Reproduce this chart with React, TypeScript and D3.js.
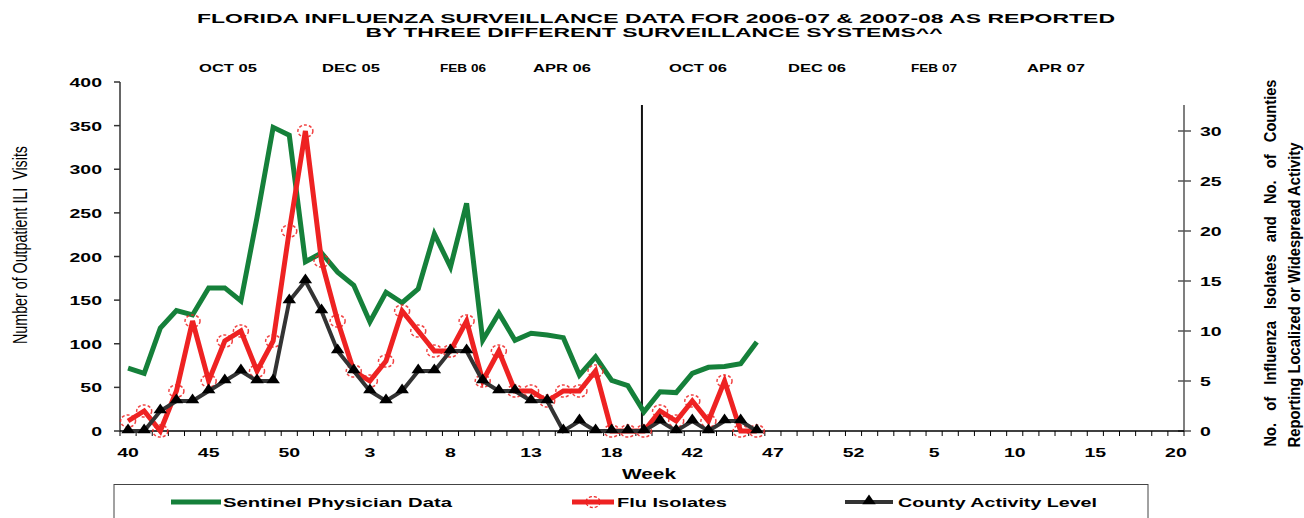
import React from "react";
import * as d3 from "d3";

// x categories: two seasons of weeks 40..20
const weekLabels = [
  40, 41, 42, 43, 44, 45, 46, 47, 48, 49, 50, 51, 52, 1, 2, 3, 4, 5, 6, 7, 8, 9, 10,
  11, 12, 13, 14, 15, 16, 17, 18, 19, 20,
  40, 41, 42, 43, 44, 45, 46, 47, 48, 49, 50, 51, 52, 1, 2, 3, 4, 5, 6, 7, 8, 9, 10,
  11, 12, 13, 14, 15, 16, 17, 18, 19, 20,
];

// left axis series
const sentinelVisits = [
  72, 66, 118, 138, 133, 164, 164, 149, 245, 348, 339, 194, 204, 182, 167, 125, 159,
  147, 163, 226, 188, 261, 104, 135, 104, 112, 110, 107, 64, 85, 58, 52, 22, 45, 44,
  66, 73, 74, 77, 102,
];

// right axis series
const fluIsolates = [
  1, 2, 0, 4, 11, 5, 9, 10, 6, 9, 20, 30, 17, 11, 6, 5, 7, 12, 10, 8, 8, 11, 5, 8, 4,
  4, 3, 4, 4, 6, 0, 0, 0, 2, 1, 3, 1, 5, 0, 0,
];
const countyActivity = [
  0, 0, 2, 3, 3, 4, 5, 6, 5, 5, 13, 15, 12, 8, 6, 4, 3, 4, 6, 6, 8, 8, 5, 4, 4, 3, 3,
  0, 1, 0, 0, 0, 0, 1, 0, 1, 0, 1, 1, 0,
];

const leftTicks = [0, 50, 100, 150, 200, 250, 300, 350, 400];
const rightTicks = [0, 5, 10, 15, 20, 25, 30];
const monthLabels = ["OCT 05", "DEC 05", "FEB 06", "APR 06", "OCT 06", "DEC 06", "FEB 07", "APR 07"];
const monthLabelX = [228, 351, 463, 562, 698, 817, 934, 1056];
const seasonBreak = 32; // category where the new season's divider sits

const W = 1304;
const H = 518;
const FONT = "'Liberation Sans', Arial, sans-serif";
const GREEN = "#15803a";
const RED = "#ee2222";
const DARK = "#333333";

const Wide = ({ x, y, size = 13, sx = 1.5, anchor = "middle", weight = "bold", children, len }: any) => (
  <text
    transform={`translate(${x},${y}) scale(${sx},1)`}
    textAnchor={anchor}
    fontFamily={FONT}
    fontSize={size}
    fontWeight={weight}
    fill="#000"
    textLength={len ? len / sx : undefined}
    lengthAdjust={len ? "spacingAndGlyphs" : undefined}
  >
    {children}
  </text>
);

const Upright = ({ x, y, size = 12, sy = 1.4, weight = "bold", len, children }: any) => (
  <text
    transform={`translate(${x},${y}) rotate(-90) scale(1,${sy})`}
    textAnchor="middle"
    fontFamily={FONT}
    fontSize={size}
    fontWeight={weight}
    fill="#000"
    textLength={len}
    lengthAdjust="spacingAndGlyphs"
    style={{ whiteSpace: "pre" }}
  >
    {children}
  </text>
);

export default function App() {
  const x = d3.scaleBand<number>().domain(d3.range(weekLabels.length)).range([120, 1184]).paddingInner(0);
  const cx = (i: number) => (x(i) as number) + x.bandwidth() / 2;
  const yLeft = d3.scaleLinear().domain([0, 400]).range([431, 82]);
  const yRight = d3.scaleLinear().domain([0, 30]).range([431, 131]);
  const baseY = yLeft(0);

  const greenLine = d3.line<number>().x((_, i) => cx(i)).y((d) => yLeft(d));
  const rightLine = d3.line<number>().x((_, i) => cx(i)).y((d) => yRight(d));

  const tri = d3.symbol().type(d3.symbolTriangle).size(55)();
  const divX = cx(seasonBreak) - 2;

  return (
    <svg width={W} height={H} style={{ position: "absolute", left: 0, top: 0, background: "#fff" }}>
      {/* title */}
      <Wide x={656} y={23} size={13} len={918}>
        FLORIDA INFLUENZA SURVEILLANCE DATA FOR 2006-07 &amp; 2007-08 AS REPORTED
      </Wide>
      <Wide x={654} y={37} size={13} len={577}>
        BY THREE DIFFERENT SURVEILLANCE SYSTEMS^^
      </Wide>

      {monthLabels.map((m, i) => (
        <Wide key={m} x={monthLabelX[i]} y={72} size={11} len={m.startsWith("FEB") ? 46 : 58}>
          {m}
        </Wide>
      ))}

      {/* left axis */}
      <line x1={120} x2={120} y1={yLeft(400)} y2={baseY} stroke={DARK} strokeWidth={1.5} />
      {leftTicks.map((t) => (
        <g key={t}>
          <line x1={114} x2={120} y1={yLeft(t)} y2={yLeft(t)} stroke={DARK} strokeWidth={1.5} />
          <Wide x={102} y={yLeft(t) + 5} anchor="end" size={13}>
            {t}
          </Wide>
        </g>
      ))}
      <Upright x={27} y={245} size={12.5} weight="normal" sy={1.6} len={198}>
        Number of Outpatient ILI  Visits
      </Upright>

      {/* right axis */}
      <line x1={1184} x2={1184} y1={105} y2={baseY} stroke="#555" strokeWidth={1.5} />
      {rightTicks.map((t) => (
        <g key={t}>
          <line x1={1178} x2={1191} y1={yRight(t)} y2={yRight(t)} stroke="#555" strokeWidth={1.5} />
          <Wide x={1200} y={yRight(t) + 5} anchor="start" size={13}>
            {t}
          </Wide>
        </g>
      ))}
      <Upright x={1276} y={263} size={12} len={367}>
        {"No.   of   Influenza   Isolates   and   No.   of   Counties"}
      </Upright>
      <Upright x={1300} y={295} size={12} len={305}>
        Reporting Localized or Widespread Activity
      </Upright>

      {/* x axis */}
      <line x1={120} x2={1184} y1={baseY} y2={baseY} stroke="#000" strokeWidth={1.5} />
      {d3.range(weekLabels.length + 1).map((i) => {
        const tx = 120 + i * x.bandwidth();
        return <line key={i} x1={tx} x2={tx} y1={baseY} y2={baseY + 5} stroke="#000" strokeWidth={1} />;
      })}
      {weekLabels.map((w, i) =>
        i % 5 === 0 ? (
          <Wide key={i} x={cx(i)} y={457} size={13}>
            {w}
          </Wide>
        ) : null
      )}
      <Wide x={649} y={479} size={14} len={54}>
        Week
      </Wide>

      {/* season divider */}
      <line x1={divX} x2={divX} y1={105} y2={baseY} stroke="#111" strokeWidth={2} />

      {/* series */}
      <path d={greenLine(sentinelVisits) || ""} fill="none" stroke={GREEN} strokeWidth={5} strokeLinejoin="miter" />
      <path d={rightLine(fluIsolates) || ""} fill="none" stroke={RED} strokeWidth={5} />
      {fluIsolates.map((d, i) => (
        <ellipse
          key={i}
          cx={cx(i)}
          cy={yRight(d)}
          rx={7.5}
          ry={6}
          fill="none"
          stroke={RED}
          strokeWidth={1.5}
          strokeDasharray="3,2"
          opacity={0.85}
        />
      ))}
      <path d={rightLine(countyActivity) || ""} fill="none" stroke={DARK} strokeWidth={4} />
      {countyActivity.map((d, i) => (
        <path key={i} d={tri || ""} transform={`translate(${cx(i)},${yRight(d) - 1}) scale(1.2,1)`} fill="#000" />
      ))}

      {/* legend */}
      <rect x={114} y={484.5} width={1034} height={60} fill="none" stroke="#444" strokeWidth={1} />
      <line x1={171} x2={221} y1={502} y2={502} stroke={GREEN} strokeWidth={5} />
      <Wide x={223} y={507} anchor="start" size={13} len={229}>
        Sentinel Physician Data
      </Wide>
      <line x1={572} x2={614} y1={502} y2={502} stroke={RED} strokeWidth={5} />
      <ellipse cx={593} cy={502} rx={7} ry={5.5} fill="none" stroke={RED} strokeWidth={1.3} strokeDasharray="3,2" />
      <Wide x={617} y={507} anchor="start" size={13} len={110}>
        Flu Isolates
      </Wide>
      <line x1={845} x2={893} y1={502} y2={502} stroke={DARK} strokeWidth={4} />
      <path d={tri || ""} transform={`translate(869,501) scale(1.2,1)`} fill="#000" />
      <Wide x={898} y={507} anchor="start" size={13} len={199}>
        County Activity Level
      </Wide>
    </svg>
  );
}
